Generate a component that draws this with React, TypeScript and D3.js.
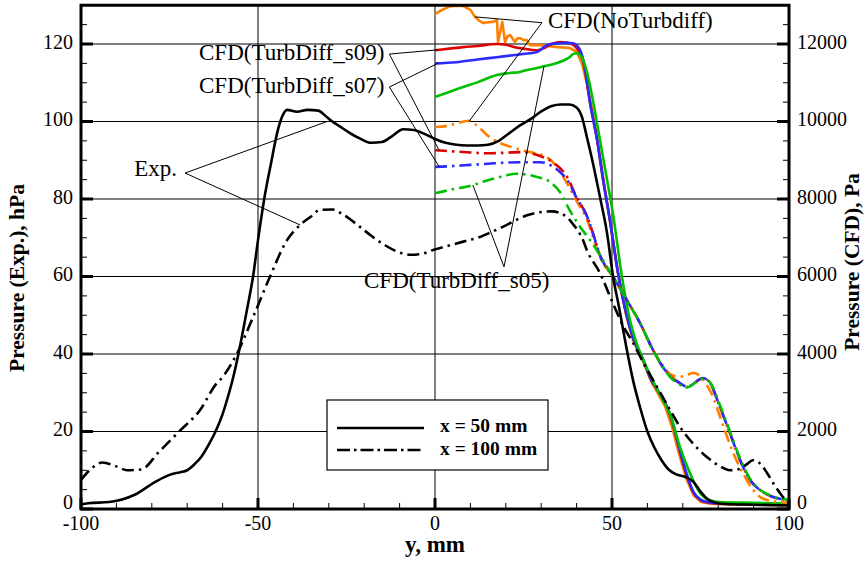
import React from "react";
import * as d3 from "d3";

// ---------- Data ----------
// Experiment, x = 50 mm (hPa)
const exp50Y = [-100, -98, -92, -85, -79, -75, -72, -70, -68, -66, -64, -62, -60, -58.8, -57, -55.6, -53, -51.4, -50, -48.3, -46.3, -44.6, -43.2, -41.8, -39, -36, -33, -31, -29, -27, -24, -21, -18, -15, -12, -9, -6, -3, 0, 3, 6, 9, 12, 15, 18, 21, 24, 27, 30, 33, 35.5, 38, 40, 41.5, 42.9, 44.6, 46.6, 48.6, 50.3, 52, 54, 56, 58, 60, 62, 64, 66, 68, 71, 73, 75, 77, 79, 82, 90, 100];
const exp50P = [1.2, 1.5, 1.8, 3.6, 7, 8.8, 9.5, 10, 11.5, 13.5, 16.5, 20, 24.5, 28, 34, 39.7, 52, 60, 69.4, 79.7, 89.3, 97, 101.2, 103, 102.5, 103, 102.8, 101.5, 100, 98.8, 97, 95.5, 94.5, 94.7, 96.3, 98, 97.8, 96.8, 95.5, 94.5, 94, 93.8, 93.8, 94, 95, 97, 99, 100.6, 102.6, 104, 104.4, 104.4, 103.6, 101.2, 96, 89.3, 80.5, 71.2, 60, 52, 42, 33, 26, 20, 15.8, 12.6, 10.2, 9, 8.2, 7, 4.5, 2.5, 1.7, 1.3, 1.1, 0.9];

// Experiment, x = 100 mm (hPa)
const exp100Y = [-100, -97, -94, -90, -87, -83, -78, -72.3, -66.4, -61.6, -60.7, -56, -51.4, -46.6, -41.8, -38.1, -35, -32.5, -29, -26, -21.2, -18, -14, -10, -7, -4, 0, 4, 8, 12.7, 16, 20, 23, 26, 29.7, 33, 35.3, 37, 39, 41.8, 42.9, 46.6, 50.3, 53, 56, 59, 62.7, 66, 69.2, 73, 76.8, 80, 83.3, 86, 88, 89.8, 91.5, 93.8, 96, 98.3, 100];
const exp100P = [7.5, 10.5, 12, 11, 10, 10.2, 14.7, 20, 25.5, 32.5, 33.3, 40, 49.5, 60, 69.4, 73.3, 75.5, 77.2, 77.3, 76, 72.8, 70.5, 68, 66.2, 65.6, 65.8, 67, 68, 69, 70.2, 71.5, 73.2, 74.6, 75.8, 76.6, 76.8, 76.4, 75.5, 73.5, 69.4, 66.8, 60.9, 53, 47.5, 42.8, 37.5, 31.5, 26.2, 21.2, 16.8, 13.4, 11.3, 10, 10.3, 11.5, 12.6, 12, 9.3, 6, 3.1, 1.5];

// CFD, x = 50 mm (Pa)
const noTdSolidY = [0, 2, 4.2, 6, 8, 10, 11.3, 12.5, 13.6, 15, 16.4, 17.5, 17.8, 18.4, 19, 19.8, 20.5, 21.2, 22.6, 23.3, 24, 25, 26, 26.8, 29.7, 32, 34.5, 36, 38, 40, 41.5, 43, 44.5, 46, 47.5, 49.4, 51.7, 54, 56, 58.8, 61, 63, 65, 67, 69, 71, 73, 75, 77, 79, 82, 90, 100];
const noTdSolidP = [12770, 12880, 12970, 12990, 12980, 12880, 12700, 12600, 12540, 12560, 12570, 12620, 12050, 12300, 12570, 12050, 12200, 12230, 12050, 12150, 12150, 12100, 12100, 11970, 11970, 11950, 11920, 11910, 11900, 11800, 11500, 10950, 10250, 9450, 8550, 7450, 6100, 5000, 4350, 3800, 3300, 2980, 2650, 2100, 1400, 780, 360, 190, 150, 130, 120, 110, 100];

const s09SolidY = [0, 4, 8, 12, 17.5, 20, 22, 25, 28.8, 31, 33, 35.3, 37, 38, 40, 41.8, 43.8, 45.8, 47.5, 49.4, 51.7, 54, 56, 58.8, 61, 63, 65, 67, 69, 71, 73, 75, 77, 79, 82, 90, 100];
const s09SolidP = [11840, 11880, 11920, 11950, 12000, 11980, 11930, 11880, 11840, 11900, 12000, 12050, 12040, 12020, 11900, 11590, 10480, 9520, 8490, 7460, 6090, 5050, 4400, 3850, 3350, 3050, 2750, 2250, 1550, 900, 420, 230, 170, 150, 140, 130, 120];

const s07SolidY = [0, 6, 12, 17.5, 22, 26.8, 28.8, 31.6, 33.5, 35.3, 37, 39, 41, 42.5, 43.8, 45.8, 47.5, 49.4, 51.7, 54, 56, 58.8, 61, 63, 65, 67, 69, 71, 73, 75, 77, 79, 82, 90, 100];
const s07SolidP = [11500, 11530, 11600, 11660, 11710, 11760, 11790, 11970, 12010, 12020, 12030, 12020, 11840, 11300, 10480, 9520, 8490, 7460, 6090, 5050, 4400, 3850, 3350, 3050, 2750, 2280, 1580, 930, 440, 240, 180, 155, 140, 130, 120];

const s05SolidY = [0, 4, 8, 12, 17.5, 21, 24, 26, 28.8, 31, 34.5, 36.5, 38, 39, 40, 41.5, 43, 44.5, 46.6, 48.5, 50.3, 52.8, 55, 56.5, 58.8, 62.6, 64.4, 66.4, 69.2, 72, 74.9, 77.7, 80.5, 90, 100];
const s05SolidP = [10630, 10760, 10890, 11010, 11200, 11250, 11280, 11330, 11380, 11430, 11510, 11580, 11660, 11740, 11760, 11660, 11250, 10600, 9520, 8550, 7600, 6000, 4900, 4400, 3850, 3120, 2810, 2450, 1600, 930, 410, 230, 180, 160, 140];

// CFD, x = 100 mm (Pa)
const noTdDashY = [0, 3, 6, 9.6, 11, 13, 14.7, 16, 18.4, 22, 26.8, 31.6, 34.4, 37, 40, 43, 46.6, 50.3, 54.2, 57.9, 61.6, 64.4, 67, 69.2, 71, 73, 74.5, 76, 78, 81.4, 84, 87, 89.8, 92, 95, 100];
const noTdDashP = [9860, 9880, 9950, 10020, 9950, 9800, 9650, 9560, 9440, 9330, 9210, 9080, 8830, 8450, 7950, 7450, 6500, 5990, 5390, 4800, 4100, 3700, 3450, 3410, 3450, 3510, 3460, 3300, 3000, 2150, 1500, 920, 500, 300, 210, 160];

const s09DashY = [0, 5, 10, 14.7, 19, 24, 29.7, 33.3, 37.3, 40, 43, 44.6, 46.6, 50.3, 54.2, 57.9, 61.6, 64.4, 66.5, 68.3, 70, 71.2, 72.5, 74, 75.7, 77.7, 80.5, 83.3, 86.2, 89, 91.8, 95.5, 99.4, 100];
const s09DashP = [9260, 9230, 9200, 9180, 9190, 9210, 9110, 8950, 8570, 8050, 7540, 7120, 6550, 5990, 5390, 4800, 4100, 3660, 3420, 3300, 3200, 3150, 3200, 3300, 3380, 3250, 2630, 1960, 1260, 750, 490, 310, 230, 220];

const s07DashY = [0, 5, 10, 15, 20, 24, 29.7, 32.5, 35, 37.3, 40, 43, 44.6, 46.6, 50.3, 54.2, 57.9, 61.6, 64.4, 66.5, 68.3, 70, 71.2, 72.5, 74, 75.7, 77.7, 80.5, 83.3, 86.2, 89, 91.8, 95.5, 99.4, 100];
const s07DashP = [8830, 8850, 8880, 8910, 8940, 8950, 8950, 8880, 8720, 8500, 8030, 7540, 7120, 6550, 5990, 5390, 4800, 4100, 3660, 3420, 3300, 3200, 3150, 3200, 3300, 3380, 3250, 2630, 1960, 1260, 750, 490, 310, 230, 220];

const s05DashY = [0, 5, 10.7, 14, 18.4, 23, 26, 28.8, 32.5, 35.3, 38, 41, 43.8, 46.6, 50.3, 54.2, 57.9, 61.6, 64.4, 66.5, 68.3, 70, 71.2, 72.5, 74, 75.7, 77.7, 80.5, 83.3, 86.2, 89, 91.8, 95.5, 99.4, 100];
const s05DashP = [8150, 8250, 8360, 8460, 8570, 8650, 8630, 8570, 8440, 8180, 7720, 7280, 6940, 6550, 5990, 5390, 4800, 4100, 3660, 3400, 3260, 3170, 3140, 3190, 3290, 3370, 3270, 2680, 2000, 1300, 780, 500, 320, 240, 230];

// Axis ticks
const xMajorTicks = [-100, -50, 0, 50, 100];
const leftMajorTicks = [0, 20, 40, 60, 80, 100, 120];
const rightMajorTicks = [0, 2000, 4000, 6000, 8000, 10000, 12000];

const COLORS = { orange: "#ff8000", red: "#dd0000", blue: "#2b2bff", green: "#00c000", black: "#000000" };

const W = 864, H = 561;
const PL = 81, PR = 789, PT = 5.25, PB = 509;
const FONT = "'Liberation Serif', 'Times New Roman', serif";

export default function App() {
  const x = d3.scaleLinear().domain([-100, 100]).range([PL, PR]);
  const yL = d3.scaleLinear().domain([0, 130]).range([PB, PT]);
  const yR = d3.scaleLinear().domain([0, 13000]).range([PB, PT]);

  const mk = (ys: number[], ps: number[], sc: d3.ScaleLinear<number, number>, curve: d3.CurveFactory) =>
    d3.line<number>().x((_, i) => x(ys[i])).y((_, i) => sc(ps[i])).curve(curve)(ys) || "";

  const smooth = d3.curveMonotoneX;
  const DD = "12,5,2.5,5";
  const DDC = "12,5,2.5,5";

  const cfdSolid = [
    { ys: noTdSolidY, ps: noTdSolidP, c: COLORS.orange, curve: d3.curveLinear },
    { ys: s09SolidY, ps: s09SolidP, c: COLORS.red, curve: smooth },
    { ys: s07SolidY, ps: s07SolidP, c: COLORS.blue, curve: smooth },
    { ys: s05SolidY, ps: s05SolidP, c: COLORS.green, curve: smooth },
  ];
  const cfdDash = [
    { ys: noTdDashY, ps: noTdDashP, c: COLORS.orange },
    { ys: s09DashY, ps: s09DashP, c: COLORS.red },
    { ys: s07DashY, ps: s07DashP, c: COLORS.blue },
    { ys: s05DashY, ps: s05DashP, c: COLORS.green },
  ];

  const xMinor = d3.range(-90, 100, 10).filter((v) => !xMajorTicks.includes(v));
  const yMinor = d3.range(5, 130, 5).filter((v) => v % 20 !== 0);
  const rMinor = d3.range(500, 13000, 500).filter((v) => v % 2000 !== 0);

  const leaders: { from: [number, number]; to: [number, number] }[] = [];
  const lineTo = (fx: number, fy: number, tx: number, ty: number) => leaders.push({ from: [fx, fy], to: [tx, ty] });
  // CFD(NoTurbdiff)
  const aNo: [number, number] = [x(30.2), yR(12550)];
  lineTo(aNo[0], aNo[1], x(11.3), yR(12700));
  lineTo(aNo[0], aNo[1], x(9.6), yR(10000));
  // s09
  const a09: [number, number] = [x(-12.9), yL(117.4)];
  lineTo(a09[0], a09[1], x(0.8), yR(11850));
  lineTo(a09[0], a09[1], x(1.2), yR(9250));
  // s07
  const a07: [number, number] = [x(-12.9), yL(108.9)];
  lineTo(a07[0], a07[1], x(0.8), yR(11500));
  lineTo(a07[0], a07[1], x(1.2), yR(8830));
  // Exp.
  const aExp: [number, number] = [x(-70.6), yL(86.7)];
  lineTo(aExp[0], aExp[1], x(-30.5), yL(100));
  lineTo(aExp[0], aExp[1], x(-38.1), yL(73.3));
  // s05
  const a05: [number, number] = [x(19.5), yL(62.5)];
  lineTo(a05[0], a05[1], x(30.8), yR(11430));
  lineTo(a05[0], a05[1], x(10.7), yR(8360));

  return (
    <svg width={W} height={H} style={{ position: "absolute", left: 0, top: 0, background: "#fff" }} fontFamily={FONT}>
      <rect x={0} y={0} width={W} height={H} fill="#fff" />
      {/* gridlines */}
      {[-50, 0, 50].map((v) => (
        <line key={"gx" + v} x1={x(v)} x2={x(v)} y1={PT} y2={PB} stroke="#000" strokeWidth={1} />
      ))}
      {[20, 40, 60, 80, 100, 120].map((v) => (
        <line key={"gy" + v} x1={PL} x2={PR} y1={yL(v)} y2={yL(v)} stroke="#000" strokeWidth={1} />
      ))}

      {/* ticks bottom */}
      {xMinor.map((v) => (
        <line key={"xm" + v} x1={x(v)} x2={x(v)} y1={PB} y2={PB - 6} stroke="#000" strokeWidth={1} />
      ))}
      {xMajorTicks.map((v) => (
        <line key={"xM" + v} x1={x(v)} x2={x(v)} y1={PB} y2={PB - 11} stroke="#000" strokeWidth={3} />
      ))}
      {/* ticks left */}
      {yMinor.map((v) => (
        <line key={"ym" + v} x1={PL} x2={PL + 6} y1={yL(v)} y2={yL(v)} stroke="#000" strokeWidth={1} />
      ))}
      {leftMajorTicks.map((v) => (
        <line key={"yM" + v} x1={PL} x2={PL + 12} y1={yL(v)} y2={yL(v)} stroke="#000" strokeWidth={3} />
      ))}
      {/* ticks right */}
      {rMinor.map((v) => (
        <line key={"rm" + v} x1={PR} x2={PR - 6} y1={yR(v)} y2={yR(v)} stroke="#000" strokeWidth={1} />
      ))}
      {rightMajorTicks.map((v) => (
        <line key={"rM" + v} x1={PR} x2={PR - 12} y1={yR(v)} y2={yR(v)} stroke="#000" strokeWidth={3} />
      ))}

      {/* CFD curves */}
      <g fill="none" strokeWidth={2.6} strokeLinejoin="round">
        {cfdSolid.map((s, i) => (
          <path key={"cs" + i} d={mk(s.ys, s.ps, yR, s.curve)} stroke={s.c} />
        ))}
        {cfdDash.map((s, i) => (
          <path key={"cd" + i} d={mk(s.ys, s.ps, yR, smooth)} stroke={s.c} strokeDasharray={DDC} />
        ))}
      </g>

      {/* Experiment curves */}
      <g fill="none" stroke="#000" strokeWidth={2.6} strokeLinejoin="round">
        <path d={mk(exp50Y, exp50P, yL, smooth)} />
        <path d={mk(exp100Y, exp100P, yL, smooth)} strokeDasharray={DD} />
      </g>

      {/* frame */}
      <rect x={PL} y={PT} width={PR - PL} height={PB - PT} fill="none" stroke="#000" strokeWidth={3} />

      {/* leaders */}
      {leaders.map((l, i) => (
        <line key={"ld" + i} x1={l.from[0]} y1={l.from[1]} x2={l.to[0]} y2={l.to[1]} stroke="#000" strokeWidth={1} />
      ))}

      {/* annotation texts */}
      <g fontSize={23} fill="#000">
        <text x={aNo[0] + 6} y={aNo[1]} dominantBaseline="middle">CFD(NoTurbdiff)</text>
        <text x={a09[0] - 5} y={a09[1] + 1} textAnchor="end" dominantBaseline="middle">CFD(TurbDiff_s09)</text>
        <text x={a07[0] - 5} y={a07[1] + 1} textAnchor="end" dominantBaseline="middle">CFD(TurbDiff_s07)</text>
        <text x={aExp[0] - 8} y={aExp[1] - 2} textAnchor="end" dominantBaseline="middle">Exp.</text>
        <text x={a05[0] - 140} y={a05[1] + 16} dominantBaseline="middle">CFD(TurbDiff_s05)</text>
      </g>

      {/* legend */}
      <rect x={327} y={400} width={221} height={70} fill="#fff" stroke="#000" strokeWidth={1.2} />
      <line x1={337} x2={424} y1={428} y2={428} stroke="#000" strokeWidth={2.6} />
      <line x1={337} x2={424} y1={450} y2={450} stroke="#000" strokeWidth={2.6} strokeDasharray="13,4,2.5,4" />
      <g fontSize={19.5} fontWeight="bold">
        <text x={440} y={428} dominantBaseline="middle">x = 50 mm</text>
        <text x={440} y={451} dominantBaseline="middle">x = 100 mm</text>
      </g>

      {/* tick labels */}
      <g fontSize={20} fill="#000">
        {xMajorTicks.map((v) => (
          <text key={"xl" + v} x={x(v)} y={530} textAnchor="middle">{v}</text>
        ))}
        {leftMajorTicks.map((v) => (
          <text key={"yl" + v} x={73} y={v === 0 ? yL(v) - 5 : yL(v)} textAnchor="end" dominantBaseline="middle">{v}</text>
        ))}
        {rightMajorTicks.map((v) => (
          <text key={"rl" + v} x={797} y={v === 0 ? yR(v) - 5 : yR(v)} textAnchor="start" dominantBaseline="middle">{v}</text>
        ))}
      </g>

      {/* axis titles */}
      <g fontWeight="bold" fill="#000">
        <text x={435} y={552} textAnchor="middle" fontSize={23}>y, mm</text>
        <text transform={`translate(24,${278}) rotate(-90)`} textAnchor="middle" fontSize={21.5}>Pressure (Exp.), hPa</text>
        <text transform={`translate(859,${262}) rotate(-90)`} textAnchor="middle" fontSize={21.5}>Pressure (CFD), Pa</text>
      </g>
    </svg>
  );
}
